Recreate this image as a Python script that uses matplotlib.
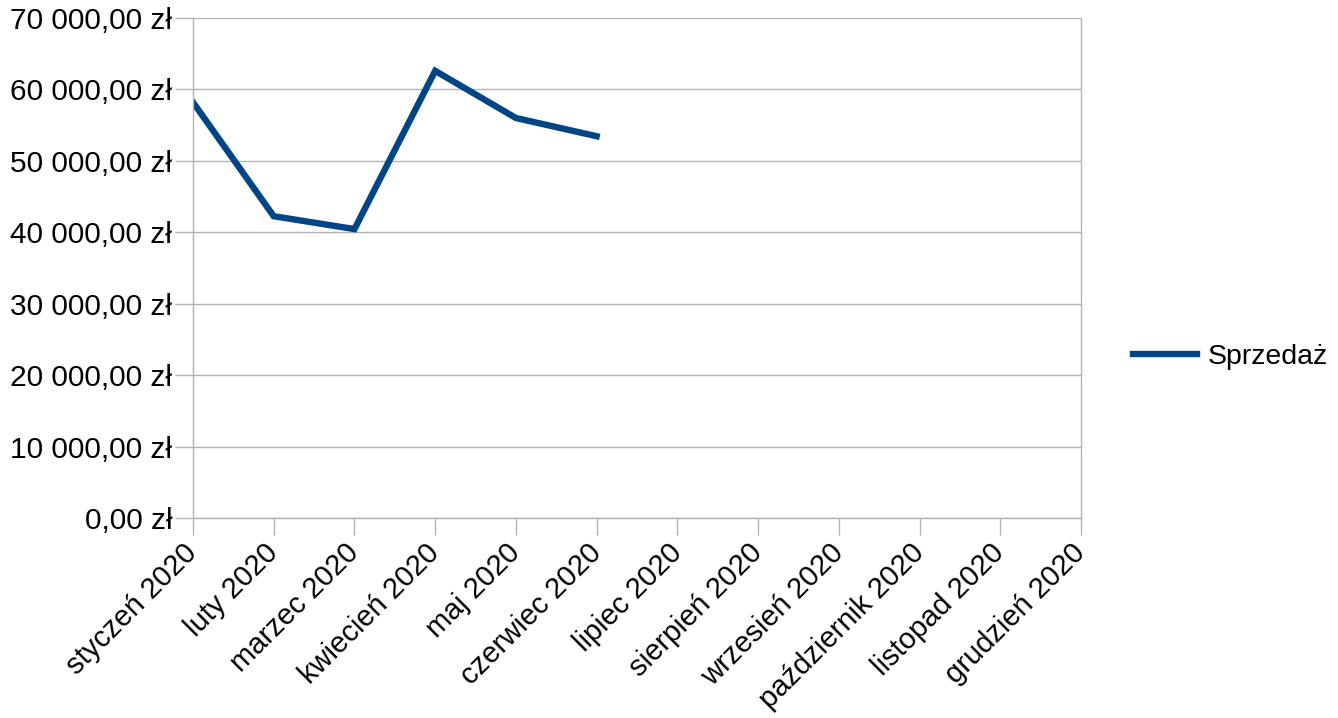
import matplotlib
matplotlib.use("Agg")
import matplotlib.pyplot as plt
from matplotlib.ticker import FuncFormatter, MultipleLocator

plt.rcParams['font.family'] = ['Liberation Sans', 'DejaVu Sans']

months = ["styczeń 2020", "luty 2020", "marzec 2020", "kwiecień 2020", "maj 2020",
          "czerwiec 2020", "lipiec 2020", "sierpień 2020", "wrzesień 2020",
          "październik 2020", "listopad 2020", "grudzień 2020"]
sales = [58200, 42250, 40450, 62600, 56000, 53450]
series_name = "Sprzedaż"

fig = plt.figure(figsize=(13.38, 7.18), dpi=100)
ax = fig.add_axes([193/1338, 1-518/718, (1081-193)/1338, 500/718])

x = list(range(len(sales)))
ax.plot(x, sales, color="#004586", lw=4.6, solid_joinstyle="miter", label=series_name)

ax.set_xlim(0, len(months) - 1)
ax.set_ylim(0, 70000)
ax.set_xticks(range(len(months)))
ax.set_xticklabels(months, rotation=45, ha="right", va="center", rotation_mode="anchor", fontsize=21)
ax.yaxis.set_major_locator(MultipleLocator(10000))

def fmt(v, pos):
    s = f"{v:,.2f}".replace(",", " ").replace(".", ",")
    return s + " zł"
ax.yaxis.set_major_formatter(FuncFormatter(fmt))
ax.tick_params(axis="y", labelsize=21.5, length=13, width=1, color="#b3b3b3", pad=2)
ax.tick_params(axis="x", length=12, width=1, color="#b3b3b3", pad=10)

ax.grid(axis="y", color="#b3b3b3", lw=1)
ax.set_axisbelow(True)
for s in ["left", "bottom", "right"]:
    ax.spines[s].set_color("#b3b3b3")
    ax.spines[s].set_linewidth(1)
ax.spines["top"].set_visible(False)

leg = fig.legend(loc="center left", bbox_to_anchor=(1122/1338, 1-357/718), frameon=False,
                 fontsize=20.5, handlelength=2.25, handletextpad=0.35, borderaxespad=0)

fig.savefig("out.png", dpi=100)
